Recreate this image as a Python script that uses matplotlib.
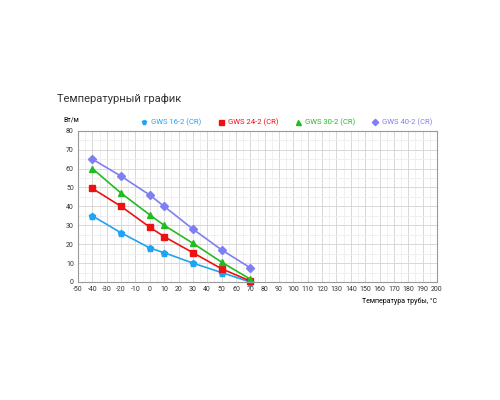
import matplotlib.pyplot as plt
from matplotlib.ticker import MultipleLocator

temps = [-40, -20, 0, 10, 30, 50, 70]
gws16 = [35, 26, 18, 15.5, 10, 5, 0]
gws24 = [49.5, 40, 29, 24, 15.5, 7, 0.5]
gws30 = [60, 47, 35.5, 30, 20.5, 10.5, 1.5]
gws40 = [65, 56, 46, 40, 28, 17, 7.5]
names = ["GWS 16-2 (CR)", "GWS 24-2 (CR)", "GWS 30-2 (CR)", "GWS 40-2 (CR)"]

plt.rcParams['font.family'] = ['Roboto', 'DejaVu Sans']
plt.rcParams['axes.unicode_minus'] = False
fig = plt.figure(figsize=(5, 4), dpi=100)
ax = fig.add_axes([0.156, 0.295, 0.718, 0.378])

series = [(gws16, '#1fa3f2', 'p', 4.5), (gws24, '#ee1111', 's', 4.5),
          (gws30, '#22bb22', '^', 4.5), (gws40, '#7f7ff0', 'D', 4)]
for (vals, col, mk, ms), name in zip(series, names):
    ax.plot(temps, vals, color=col, marker=mk, markersize=ms, lw=1.2, label=name, clip_on=False)

ax.set_xlim(-50, 200)
ax.set_ylim(0, 80)
ax.xaxis.set_major_locator(MultipleLocator(10))
ax.yaxis.set_major_locator(MultipleLocator(10))
ax.xaxis.set_minor_locator(MultipleLocator(5))
ax.yaxis.set_minor_locator(MultipleLocator(5))
ax.grid(which='major', color='#d8d8d8', lw=0.7)
ax.grid(which='minor', color='#eeeeee', lw=0.6)
ax.tick_params(which='both', length=0, labelsize=5, colors='#333333', pad=3)
for s in ax.spines.values():
    s.set_color('#999999')
    s.set_linewidth(0.8)

ax.text(-0.04, 1.05, "Вт/м", transform=ax.transAxes, fontsize=5, ha='left', va='bottom')
ax.text(1.0, -0.1, "Температура трубы, °С", transform=ax.transAxes, fontsize=5, ha='right', va='top')
fig.text(0.114, 0.745, "Температурный график", fontsize=8, color='#333333')

leg = ax.legend(loc='lower right', bbox_to_anchor=(1.0, 1.0), ncol=4, frameon=False,
                fontsize=5.5, handlelength=0.8, columnspacing=2.2, handletextpad=0.5,
                borderaxespad=0.2, markerscale=0.8)
for t, (_, col, _, _) in zip(leg.get_texts(), series):
    t.set_color(col)
for h in leg.get_lines():
    h.set_linestyle('none')

fig.savefig("out.png", dpi=100)
